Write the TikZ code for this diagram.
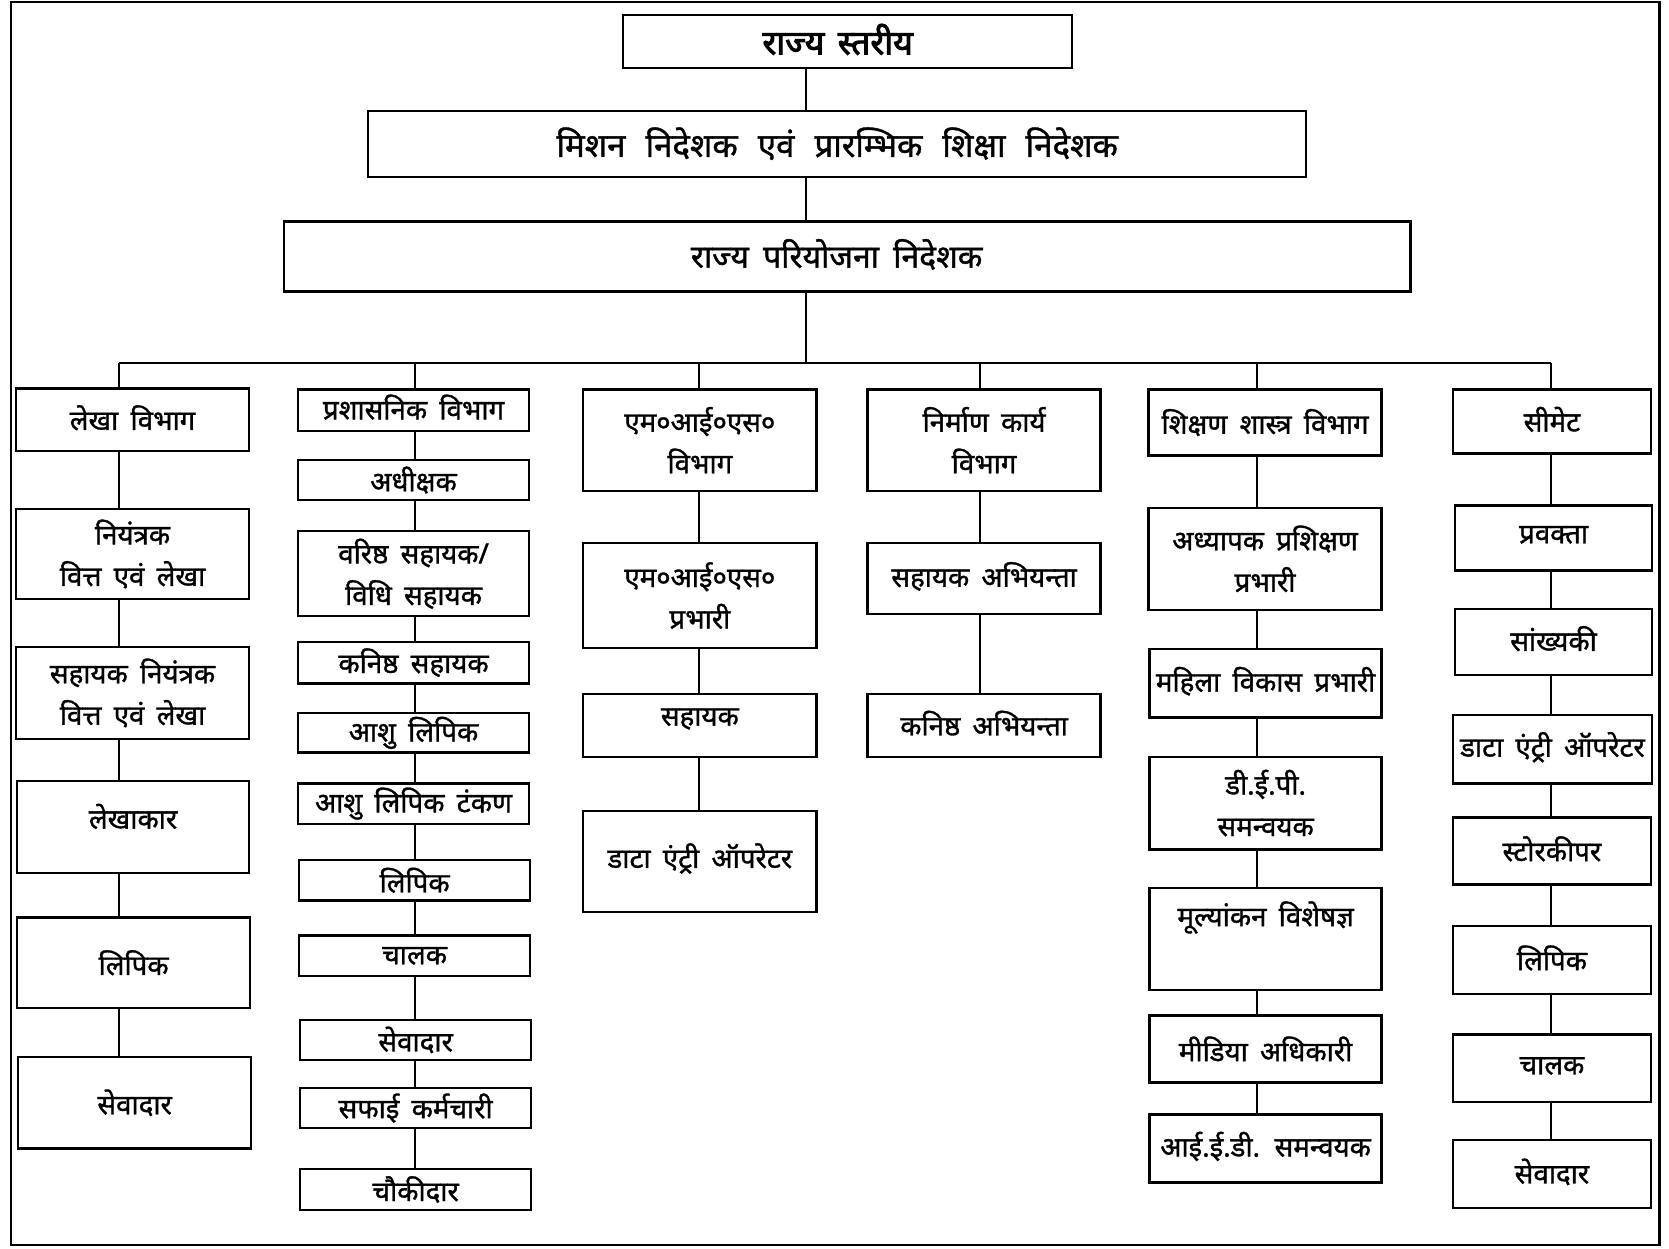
\documentclass[tikz,border=0pt]{standalone}
\usepackage{fontspec}
\newfontfamily\dev[Script=Devanagari,FakeBold=1.2,WordSpace=1.7]{Noto Sans}
\newfontfamily\devb[Script=Devanagari,FakeBold=2.8,WordSpace=1.5]{Noto Sans}
\newcommand\orgbox[6]{\node[box,minimum width={(#4-#2)*1pt},minimum height={(#5-#3)*1pt}] (#1) at ({(#2+#4)/2},{(#3+#5)/2}) {#6};}
\newcommand\upby[2]{\raisebox{0pt}[\height][\dimexpr\depth+#1*2\relax]{#2}}
\begin{document}
\begin{tikzpicture}[x=1pt,y=-1pt,
  box/.style={draw,line width=2.2pt,inner sep=0pt,align=center,font=\dev\fontsize{26}{39}\selectfont},
  conn/.style={line width=1.8pt},
  frame/.style={line width=2pt}]
\useasboundingbox (0,0) rectangle (1568,1173);
\draw[frame] (10,2) rectangle (1559,1170);
% top levels
\orgbox{r1}{585}{14}{1007}{64}{\devb\fontsize{32}{34}\selectfont\upby{2pt}{राज्य स्तरीय}\kern18pt}
\orgbox{r2}{346}{104}{1227}{166}{\dev\fontsize{31}{34}\selectfont मिशन\ \,निदेशक\ \,एवं\ \,प्रारम्भिक\ \,शिक्षा\ \,निदेशक}
\orgbox{r3}{267}{208}{1325}{274}{\dev\fontsize{30}{34}\selectfont\upby{2pt}{राज्य\ परियोजना\ निदेशक}\kern20pt}
% column coordinates on the bus
\coordinate (xt) at (757,341);
\coordinate (x1) at (112,341);
\coordinate (x2) at (390,341);
\coordinate (x3) at (657,341);
\coordinate (x4) at (921,341);
\coordinate (x5) at (1181,341);
\coordinate (x6) at (1457,341);
% column 1
\orgbox{a1}{15}{365}{234}{424}{\upby{2pt}{लेखा विभाग}}
\orgbox{a2}{15}{478}{234}{563}{नियंत्रक\\वित्त एवं लेखा}
\orgbox{a3}{15}{608}{234}{694}{सहायक नियंत्रक\\वित्त एवं लेखा}
\orgbox{a4}{16}{734}{234}{820}{\upby{10pt}{लेखाकार}}
\orgbox{a5}{16}{862}{235}{947}{लिपिक}
\orgbox{a6}{17}{993}{236}{1079}{सेवादार}
% column 2
\orgbox{b1}{280}{366}{497}{405}{\upby{3pt}{प्रशासनिक विभाग}}
\orgbox{b2}{280}{432}{497}{470}{अधीक्षक}
\orgbox{b3}{280}{499}{497}{579}{वरिष्ठ सहायक/\\विधि सहायक}
\orgbox{b4}{280}{603}{497}{642}{कनिष्ठ सहायक}
\orgbox{b5}{280}{670}{497}{707}{आशु लिपिक}
\orgbox{b6}{280}{736}{497}{774}{आशु लिपिक टंकण}
\orgbox{b7}{281}{808}{498}{846}{लिपिक}
\orgbox{b8}{281}{879}{498}{917}{चालक}
\orgbox{b9}{282}{958}{499}{996}{सेवादार}
\orgbox{b10}{282}{1022}{499}{1060}{सफाई कर्मचारी}
\orgbox{b11}{282}{1098}{499}{1137}{चौकीदार}
% column 3
\orgbox{c1}{548}{366}{767}{461}{एम०आई०एस०\\विभाग}
\orgbox{c2}{548}{510}{767}{609}{एम०आई०एस०\\प्रभारी}
\orgbox{c3}{548}{652}{767}{711}{\upby{6pt}{सहायक}}
\orgbox{c4}{548}{762}{767}{857}{\upby{3pt}{डाटा एंट्री ऑपरेटर}}
% column 4
\orgbox{d1}{815}{366}{1034}{461}{निर्माण कार्य\\विभाग}
\orgbox{d2}{815}{510}{1034}{577}{\upby{2pt}{सहायक अभियन्ता}}
\orgbox{d3}{815}{652}{1034}{711}{\upby{2pt}{कनिष्ठ अभियन्ता}}
% column 5
\orgbox{e1}{1079}{366}{1298}{428}{शिक्षण शास्त्र विभाग}
\orgbox{e2}{1079}{477}{1298}{573}{अध्यापक प्रशिक्षण\\प्रभारी}
\orgbox{e3}{1080}{610}{1298}{674}{\upby{2pt}{महिला विकास प्रभारी}}
\orgbox{e4}{1080}{711}{1298}{798}{डी.ई.पी.\\समन्वयक}
\orgbox{e5}{1080}{834}{1298}{930}{\upby{20pt}{मूल्यांकन विशेषज्ञ}}
\orgbox{e6}{1080}{954}{1298}{1017}{मीडिया अधिकारी}
\orgbox{e7}{1080}{1047}{1298}{1111}{\upby{2pt}{आई.ई.डी. समन्वयक}}
% column 6
\orgbox{f1}{1365}{366}{1551}{426}{\upby{2pt}{सीमेट}}
\orgbox{f2}{1367}{475}{1552}{536}{\upby{3pt}{प्रवक्ता}}
\orgbox{f3}{1367}{572}{1552}{634}{\upby{3pt}{सांख्यकी}}
\orgbox{f4}{1365}{672}{1552}{736}{\upby{2pt}{डाटा एंट्री ऑपरेटर}}
\orgbox{f5}{1365}{768}{1551}{831}{\upby{2pt}{स्टोरकीपर}}
\orgbox{f6}{1365}{870}{1551}{934}{\upby{2pt}{लिपिक}}
\orgbox{f7}{1365}{972}{1551}{1035}{\upby{2pt}{चालक}}
\orgbox{f8}{1365}{1071}{1551}{1135}{\upby{2pt}{सेवादार}}
% trunk
\draw[conn] (r1.south -| xt) -- (r2.north -| xt);
\draw[conn] (r2.south -| xt) -- (r3.north -| xt);
\draw[conn] (r3.south -| xt) -- (xt);
\draw[conn] (x1) -- (x6);
\draw[conn] (x1) -- (a1.north -| x1);
\draw[conn] (x2) -- (b1.north -| x2);
\draw[conn] (x3) -- (c1.north -| x3);
\draw[conn] (x4) -- (d1.north -| x4);
\draw[conn] (x5) -- (e1.north -| x5);
\draw[conn] (x6) -- (f1.north -| x6);
% chains
\foreach \p/\q in {a1/a2,a2/a3,a3/a4,a4/a5,a5/a6}{\draw[conn] (\p.south -| x1) -- (\q.north -| x1);}
\foreach \p/\q in {b1/b2,b2/b3,b3/b4,b4/b5,b5/b6,b6/b7,b7/b8,b8/b9,b9/b10,b10/b11}{\draw[conn] (\p.south -| x2) -- (\q.north -| x2);}
\foreach \p/\q in {c1/c2,c2/c3,c3/c4}{\draw[conn] (\p.south -| x3) -- (\q.north -| x3);}
\foreach \p/\q in {d1/d2,d2/d3}{\draw[conn] (\p.south -| x4) -- (\q.north -| x4);}
\foreach \p/\q in {e1/e2,e2/e3,e3/e4,e4/e5,e5/e6,e6/e7}{\draw[conn] (\p.south -| x5) -- (\q.north -| x5);}
\foreach \p/\q in {f1/f2,f2/f3,f3/f4,f4/f5,f5/f6,f6/f7,f7/f8}{\draw[conn] (\p.south -| x6) -- (\q.north -| x6);}
\end{tikzpicture}
\end{document}
